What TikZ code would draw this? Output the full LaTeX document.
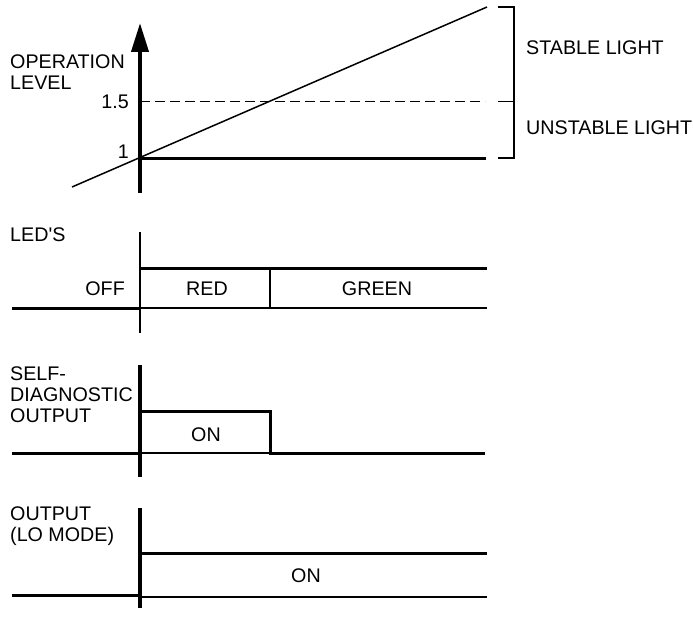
\documentclass[tikz,border=0pt]{standalone}
\usepackage{fontspec}
\setmainfont{Liberation Sans}
\usepackage{tikz}
\usetikzlibrary{arrows.meta,positioning,calc}

\begin{document}
\begin{tikzpicture}[
    x=1pt, y=-1pt,
    lbl/.style={inner sep=0pt, font=\fontsize{19.7}{21}\selectfont, align=left},
    thickln/.style={line width=3pt},
    thinln/.style={line width=1.2pt},
    axisln/.style={line width=4pt},
    arr/.style={-{Triangle[length=29pt, width=17pt]}, line width=4pt}
]
\useasboundingbox (0,0) rectangle (693,618);

% --- operation level graph
\coordinate (o) at (140,158);
\coordinate (ybot) at (140,193);
\coordinate (ytop) at (140,23);
\coordinate (d0) at (140,101.5);
\coordinate (d1) at (485,101.5);
\coordinate (l1) at (486,158);
\coordinate (s0) at (72,187);
\coordinate (s1) at (487,7);
\coordinate (bt) at (514,7);
\coordinate (bm) at (514,101.5);
\coordinate (bb) at (514,158);

\draw[arr] (ybot) -- (ytop);
\draw[line width=1.4pt, dash pattern=on 10pt off 5pt] (d0) -- (d1);
\draw[thickln] (o) -- (l1);
\draw[line width=1.5pt] (s0) -- (s1);
\draw[thinln] ($(bt)+(-16,0)$) -- (bt) -- (bb) -- ($(bb)+(-16,0)$);
\draw[thinln] ($(bm)+(-16,0)$) -- (bm);

\node[lbl, anchor=west] (oplvl) at (10,72) {OPERATION\\LEVEL};
\node[lbl, anchor=east] (v15) at (129,101.5) {1.5};
\node[lbl, anchor=east] (v1) at (129,152) {1};
\node[lbl, anchor=west] (stable) at (526,48) {STABLE LIGHT};
\node[lbl, anchor=west] (unstable) at (526,128) {UNSTABLE LIGHT};

% --- LED's
\coordinate (la) at (140,232);
\coordinate (lb) at (140,333);
\coordinate (lt0) at (140,268);
\coordinate (lt1) at (487,268);
\coordinate (lo0) at (12,308);
\coordinate (lo1) at (140,308);
\coordinate (lo2) at (487,308);
\coordinate (lda) at (270,268);
\coordinate (ldb) at (270,308);

\draw[thinln] (la) -- (lb);
\draw[thickln] (lt0) -- (lt1);
\draw[thinln] (lo1) -- (lo2);
\draw[thickln] (lo0) -- (lo1);
\draw[thinln] (lda) -- (ldb);

\node[lbl, anchor=west] (leds) at (10,235) {LED\textquotesingle S};
\node[lbl, anchor=east] (off) at (125,289) {OFF};
\node[lbl] (red) at (207,289) {RED};
\node[lbl] (green) at (377,289) {GREEN};

% --- self-diagnostic output
\coordinate (sa) at (140,365);
\coordinate (sb) at (140,477);
\coordinate (sh0) at (140,411);
\coordinate (sh1) at (270,411);
\coordinate (sl0) at (12,453);
\coordinate (sl1) at (140,453);
\coordinate (sl2) at (270,453);
\coordinate (sl3) at (485,453);

\draw[axisln] (sa) -- (sb);
\draw[thickln] (sh0) -- (sh1) -- (sl2) -- (sl3);
\draw[thinln] (sl1) -- (sl2);
\draw[thickln] (sl0) -- (sl1);

\node[lbl, anchor=west] (selfdiag) at (10,395) {SELF-\\DIAGNOSTIC\\OUTPUT};
\node[lbl] (son) at (206,435) {ON};

% --- output (LO mode)
\coordinate (oa) at (140,508);
\coordinate (ob) at (140,608);
\coordinate (oh0) at (140,553);
\coordinate (oh1) at (487,553);
\coordinate (ol0) at (12,595);
\coordinate (ol1) at (140,595);
\coordinate (ol2) at (487,597);

\draw[axisln] (oa) -- (ob);
\draw[thickln] (oh0) -- (oh1);
\draw[thinln] (140,597) -- (ol2);
\draw[thickln] (ol0) -- (ol1);

\node[lbl, anchor=west] (outlo) at (10,526) {OUTPUT\\(LO MODE)};
\node[lbl] (oon) at (306,576) {ON};
\end{tikzpicture}
\end{document}
